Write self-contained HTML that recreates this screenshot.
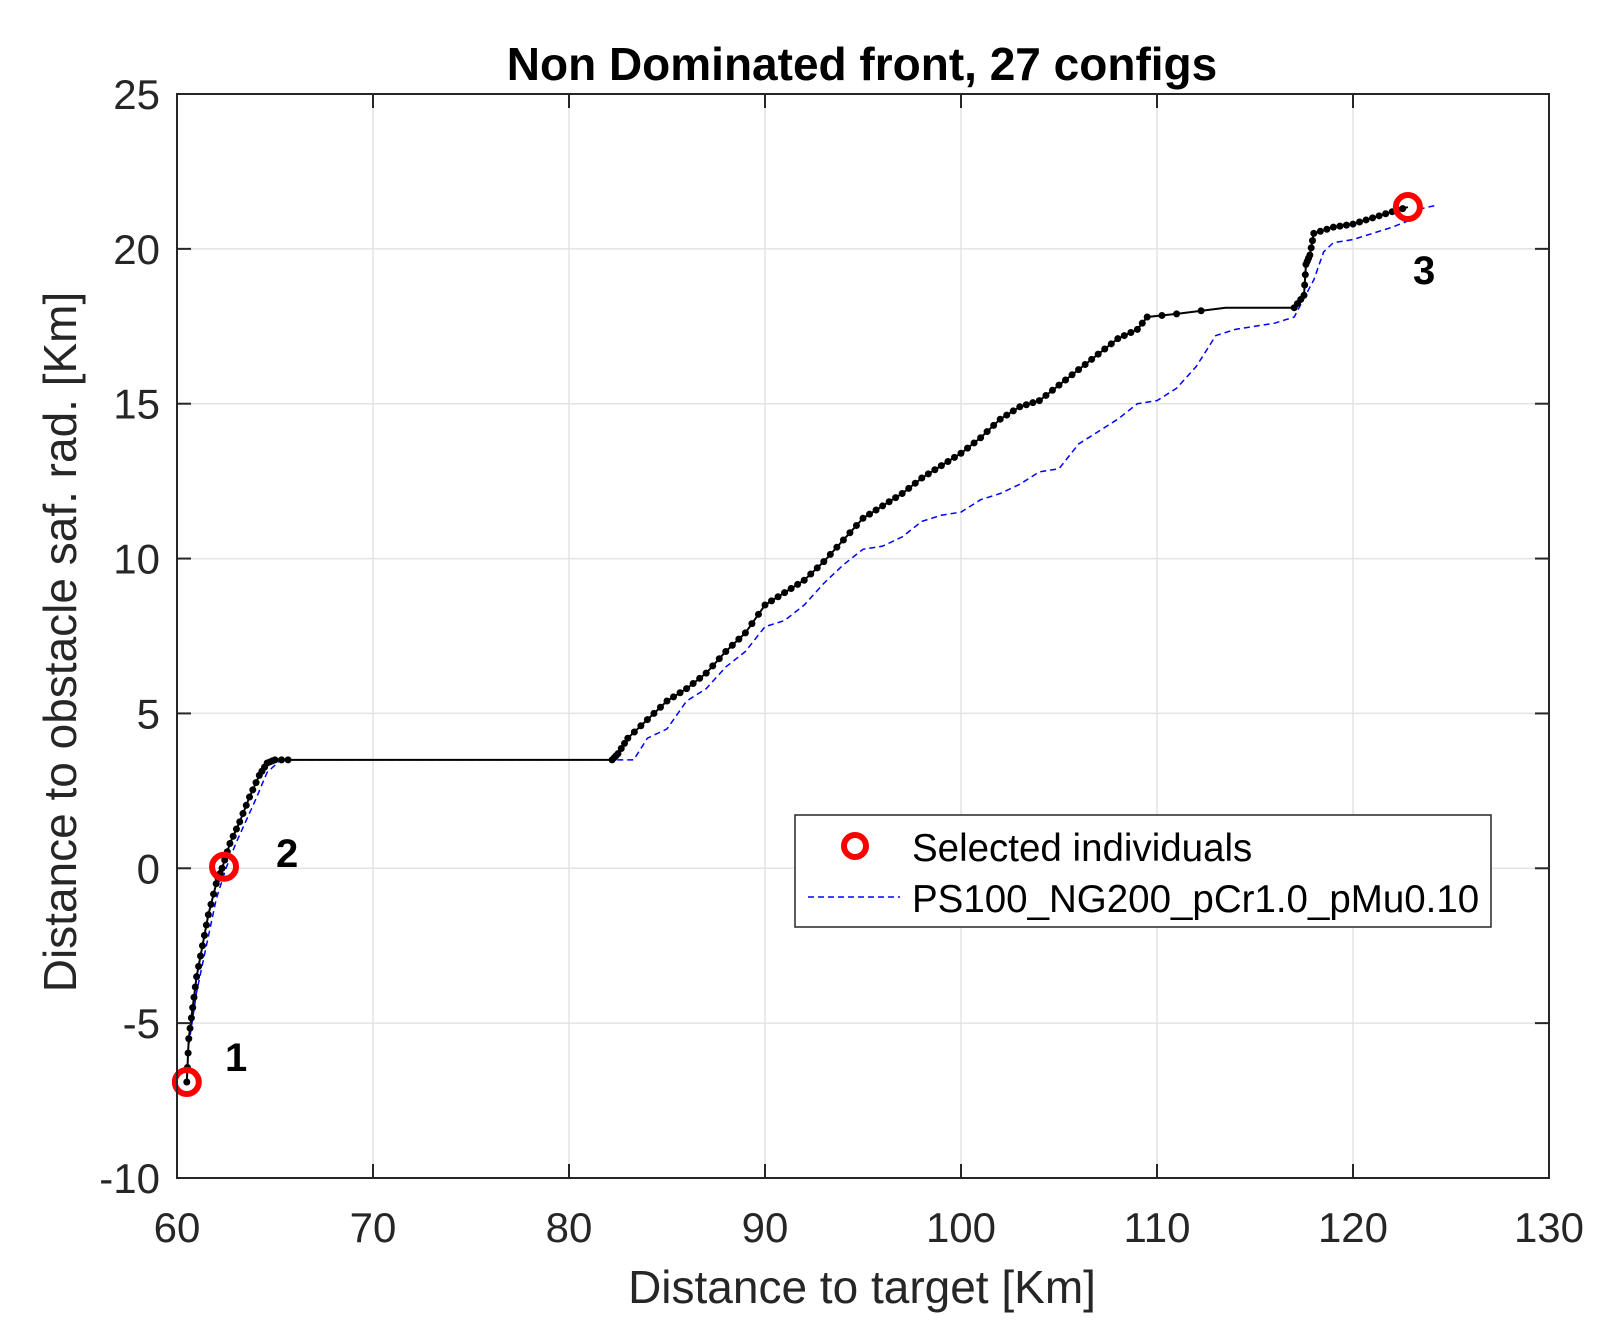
<!DOCTYPE html>
<html><head><meta charset="utf-8"><style>
body{margin:0;background:#fff}
svg{display:block;font-family:"Liberation Sans",Arial,sans-serif}
</style></head><body>
<svg id="s" width="1606" height="1340" viewBox="0 0 1606 1340" xmlns="http://www.w3.org/2000/svg">
<rect width="1606" height="1340" fill="#fff"/>
<g id="grid" stroke="#e3e3e3" stroke-width="1.5"></g>
<g id="data"></g>
<rect x="177" y="94" width="1372" height="1084" fill="none" stroke="#262626" stroke-width="2"/>
<g id="ticks" stroke="#262626" stroke-width="2"></g>
<g id="labels" fill="#262626"></g>
<text x="862" y="80" text-anchor="middle" font-size="46" font-weight="bold" fill="#000">Non Dominated front, 27 configs</text>
<text x="862" y="1303" text-anchor="middle" font-size="46" fill="#262626">Distance to target [Km]</text>
<text transform="translate(76,642) rotate(-90)" text-anchor="middle" font-size="46" fill="#262626">Distance to obstacle saf. rad. [Km]</text>
<text x="225" y="1071" font-size="40" font-weight="bold">1</text>
<text x="276" y="867" font-size="40" font-weight="bold">2</text>
<text x="1413" y="284" font-size="40" font-weight="bold">3</text>
<rect x="795" y="815" width="696" height="112" fill="#fff" stroke="#262626" stroke-width="1.5"/>
<circle cx="855" cy="846" r="11" fill="none" stroke="#f00" stroke-width="6"/>
<text x="912" y="861" font-size="38.5" fill="#000">Selected individuals</text>
<line x1="808" y1="897" x2="900" y2="897" stroke="#00f" stroke-width="1.5" stroke-dasharray="6,4"/>
<text x="912" y="912" font-size="38.5" fill="#000">PS100_NG200_pCr1.0_pMu0.10</text>
</svg>
<script>
const X=x=>177+(x-60)*19.6, Y=y=>94+(25-y)*30.971;
const ns="http://www.w3.org/2000/svg";
function el(p,t,a,txt){const e=document.createElementNS(ns,t);for(const k in a)e.setAttribute(k,a[k]);if(txt!==undefined)e.textContent=txt;document.getElementById(p).appendChild(e);return e;}
for(let x=70;x<130;x+=10)el("grid","line",{x1:X(x),x2:X(x),y1:94,y2:1178});
for(let y=-5;y<25;y+=5)el("grid","line",{x1:177,x2:1549,y1:Y(y),y2:Y(y)});
for(let x=60;x<=130;x+=10){el("ticks","line",{x1:X(x),x2:X(x),y1:1178,y2:1164});el("ticks","line",{x1:X(x),x2:X(x),y1:94,y2:108});el("labels","text",{x:X(x),y:1242,"text-anchor":"middle","font-size":"42"},x);}
for(let y=-10;y<=25;y+=5){el("ticks","line",{x1:177,x2:191,y1:Y(y),y2:Y(y)});el("ticks","line",{x1:1549,x2:1535,y1:Y(y),y2:Y(y)});el("labels","text",{x:160,y:Y(y)+15,"text-anchor":"end","font-size":"42"},y);}
const blue=[[60.6,-5.7],[61,-4],[61.5,-2.5],[62,-1],[62.5,0],[63,0.8],[64,2.2],[64.6,3.1],[65.3,3.5],[83.3,3.5],[84,4.2],[85,4.5],[86,5.4],[87,5.8],[88,6.5],[89,7],[90,7.8],[91,8],[92,8.5],[93,9.2],[94,9.8],[95,10.3],[96,10.4],[97,10.7],[98,11.2],[99,11.4],[100,11.5],[101,11.9],[102,12.1],[103,12.4],[104,12.8],[105,12.9],[106,13.7],[107,14.1],[108,14.5],[109,15],[110,15.1],[111,15.5],[112,16.2],[113,17.2],[114,17.4],[115,17.5],[116,17.6],[117,17.8],[118,19],[118.5,19.9],[119,20.2],[120,20.3],[121,20.5],[122,20.7],[122.8,20.9],[123.5,21.3],[124.2,21.4]];
const blk=[[60.5,-6.9],[60.6,-5.5],[60.8,-4.5],[61,-3.5],[61.3,-2.5],[61.6,-1.5],[62,-0.5],[62.3,0],[62.7,0.8],[63.2,1.5],[63.7,2.3],[64.2,3],[64.6,3.4],[65,3.5],[66,3.5],[82.2,3.5],[82.5,3.7],[83,4.2],[84,4.8],[85,5.4],[86,5.8],[87,6.3],[88,7],[89,7.6],[90,8.5],[91,8.9],[92,9.3],[93,9.9],[94,10.6],[95,11.3],[96,11.7],[97,12.1],[98,12.6],[99,13],[100,13.4],[101,13.9],[102,14.5],[103,14.9],[104,15.1],[105,15.6],[106,16.1],[107,16.6],[108,17.1],[109,17.4],[109.5,17.8],[111,17.9],[113.5,18.1],[117,18.1],[117.5,18.5],[117.6,19.5],[117.8,19.8],[118,20.5],[119,20.7],[120,20.8],[121,21],[122,21.2],[122.8,21.35]];
el("data","polyline",{points:blue.map(p=>X(p[0])+","+Y(p[1])).join(" "),fill:"none",stroke:"#00f","stroke-width":1.5,"stroke-dasharray":"6,4"});
el("data","polyline",{points:blk.map(p=>X(p[0])+","+Y(p[1])).join(" "),fill:"none",stroke:"#000","stroke-width":2});
for(let i=0;i<blk.length-1;i++){const a=blk[i],b=blk[i+1];if(a[1]==b[1]&&b[0]-a[0]>3)continue;const n=(a[0]>=109&&a[0]<117)?2:3;for(let k=0;k<n;k++){const t=k/n;el("data","circle",{cx:X(a[0]+(b[0]-a[0])*t),cy:Y(a[1]+(b[1]-a[1])*t),r:3.5,fill:"#000"});}}
[[60.5,-6.9],[62.4,0.05],[122.8,21.35]].forEach(p=>el("data","circle",{cx:X(p[0]),cy:Y(p[1]),r:12,fill:"none",stroke:"#f00","stroke-width":6}));
</script>
</body></html>
